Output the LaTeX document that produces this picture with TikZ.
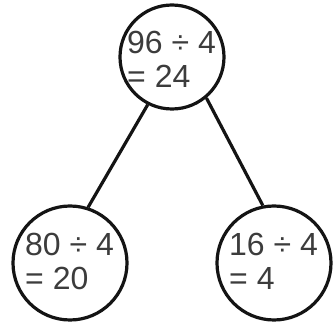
\documentclass[tikz,border=0pt]{standalone}
\usepackage{fontspec}
\setmainfont{Liberation Sans}
\usepackage{xcolor}
\definecolor{treeink}{RGB}{20,20,20}
\definecolor{treetext}{RGB}{60,60,60}
\usepackage{tikz}
\usetikzlibrary{positioning}
\tikzset{
  tree circle/.style={draw=treeink, circle, line width=3.2pt, inner sep=0pt},
  tree text/.style={text=treetext, align=left, inner sep=0pt, font=\fontsize{32}{34}\selectfont},
  tree edge/.style={draw=treeink, line width=3.2pt},
}

\begin{document}
\begin{tikzpicture}[x=1pt, y=-1pt]
  \useasboundingbox (0,0) rectangle (333,323);
  \node[tree circle, minimum size=104pt] (top) at (172,57) {};
  \node[tree circle, minimum size=114pt] (left) at (70,263) {};
  \node[tree circle, minimum size=114pt] (right) at (274,263) {};
  \node[tree text, anchor=base west] (topt) at (127,88) {96 ÷ 4\\= 24};
  \node[tree text, anchor=base west] (leftt) at (25,290) {80 ÷ 4\\= 20};
  \node[tree text, anchor=base west] (rightt) at (229,290) {16 ÷ 4\\= 4};
  \draw[tree edge] (top.-117) -- (left.72);
  \draw[tree edge] (top.-50) -- (right.101);
\end{tikzpicture}
\end{document}
